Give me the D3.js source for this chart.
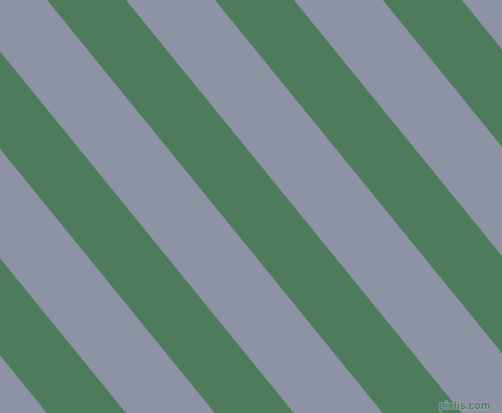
<!DOCTYPE html>
<html>
<head>
<meta charset="utf-8">
<script src="https://cdn.jsdelivr.net/npm/d3@7"></script>
<style>
  html, body { margin: 0; padding: 0; background: #8E92A5; }
  svg { display: block; }
</style>
</head>
<body>
<div id="viz"></div>
<script>
const width = 502;
const height = 413;

// pattern values
const bandNames = ['green', 'grey'];
const bandColors = ['#4E7B5C', '#8E92A5'];
const bandWidths = [61.3, 69.0];      // measured across the stripe
const stripeAngle = -39.1;            // degrees, rotation of vertical bands
const firstGreenOffset = 36.5;        // where a green band starts (rotated x)
const periods = [-3, -2, -1, 0, 1, 2, 3];

const period = d3.sum(bandWidths);

const svg = d3.select('#viz')
  .append('svg')
    .attr('width', width)
    .attr('height', height)
    .attr('viewBox', [0, 0, width, height]);

svg.append('rect')
  .attr('width', width)
  .attr('height', height)
  .attr('fill', bandColors[1]);

// rotated x position of each period
const uScale = d3.scaleLinear()
  .domain([0, 1])
  .range([firstGreenOffset, firstGreenOffset + period]);

const bands = [];
periods.forEach(p => {
  let start = uScale(p);
  bandNames.forEach((name, i) => {
    bands.push({name, color: bandColors[i], x: start, w: bandWidths[i]});
    start += bandWidths[i];
  });
});

const g = svg.append('g')
  .attr('transform', `rotate(${stripeAngle})`);

g.selectAll('rect.band')
  .data(bands.filter(d => d.name === 'green'))
  .join('rect')
    .attr('class', 'band')
    .attr('x', d => d.x)
    .attr('y', -200)
    .attr('width', d => d.w)
    .attr('height', 1000)
    .attr('fill', d => d.color);

// small watermark in the corner
svg.append('text')
  .attr('x', 490)
  .attr('y', 409)
  .attr('text-anchor', 'end')
  .attr('font-family', 'Liberation Sans, Arial, sans-serif')
  .attr('font-size', 10.5)
  .attr('font-weight', 700)
  .attr('fill', '#4E7B5C')
  .attr('stroke', '#A9ADBC')
  .attr('stroke-width', 1)
  .attr('paint-order', 'stroke')
  .text('pixlis.com');
</script>
</body>
</html>
